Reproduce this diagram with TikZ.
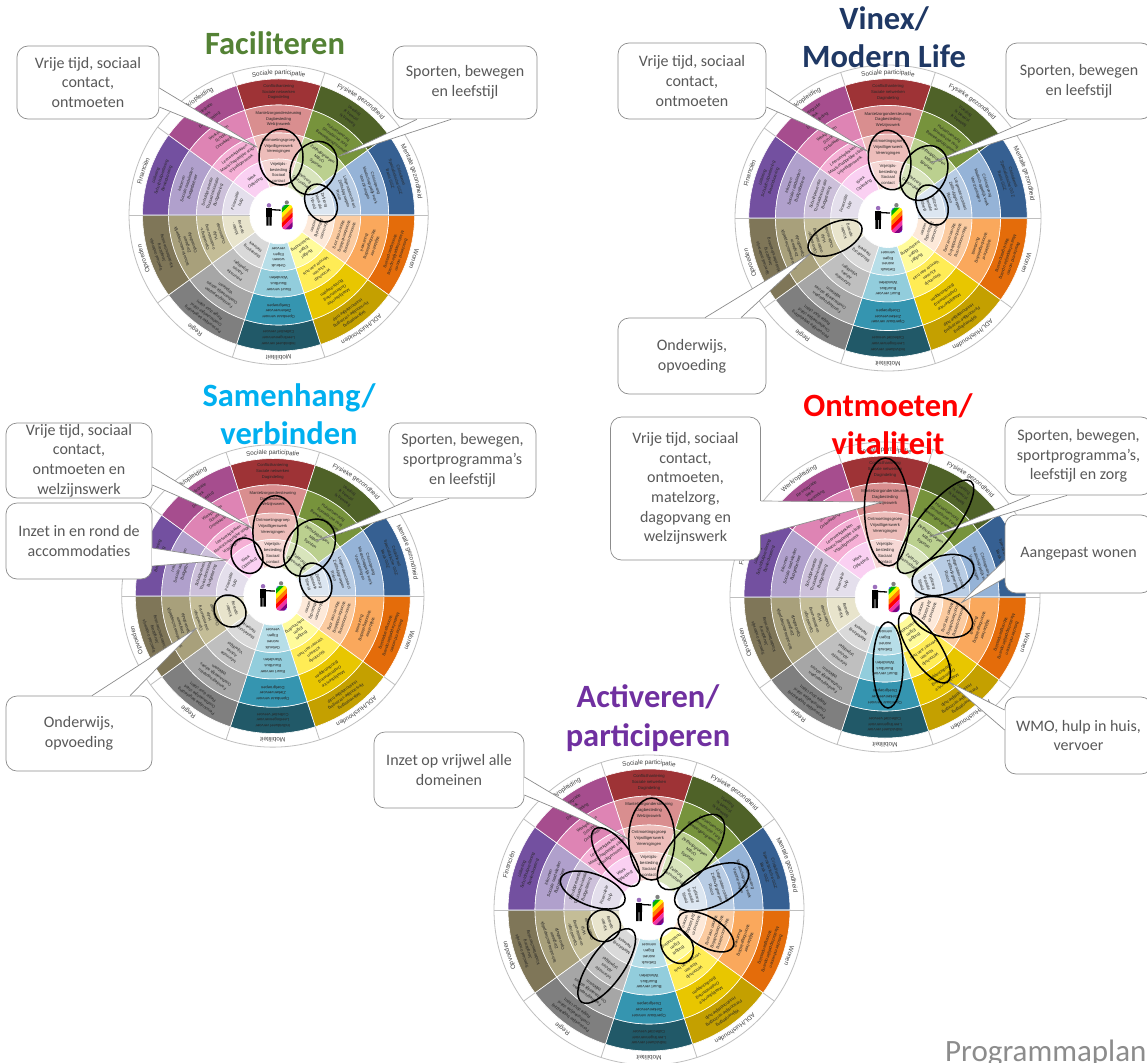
\documentclass[tikz,border=0pt]{standalone}
\usepackage{fontspec}
\setmainfont{Carlito}
\newfontfamily\wheelfont{Liberation Sans}
\usetikzlibrary{shapes.geometric,calc,decorations.text}

\definecolor{titlegreen}{HTML}{548235}
\definecolor{titlenavy}{HTML}{1F3864}
\definecolor{titlecyan}{HTML}{00B0F0}
\definecolor{titlepurple}{HTML}{7030A0}
\definecolor{bubbletext}{HTML}{595959}
\definecolor{wheelline}{HTML}{BFBFBF}

\tikzset{bubble/.style={draw=gray!90,fill=white,line width=0.7pt,rounded corners=11pt,align=center,text=bubbletext,inner sep=0pt,font=\fontsize{16}{19.7}\selectfont},
  oval/.style={ellipse,draw=black,line width=1.5pt,inner sep=0pt},
  headline/.style={align=center,inner sep=0pt,font=\fontsize{32.5}{38.5}\selectfont\bfseries},
  celltext/.style={align=center,inner sep=0pt,text=black!85,font=\wheelfont\fontsize{4.2}{5.9}\selectfont},
  tailline/.style={draw=gray!90,line width=0.7pt,line join=round}}

\newcommand{\bubbletail}[3]{
  \fill[white] #1 -- #2 -- #3 -- cycle;
  \draw[white,line width=1.2pt] #1 -- #3;
  \draw[tailline] #1 -- #2 -- #3;
}

\newcommand{\wheel}[3]{
\begin{scope}[shift={(#1,#2)},x=1pt,y=1pt,scale=#3,transform shape]
  \draw[wheelline,line width=0.8pt] (0,0) circle (155);
  % coloured rings, outside to inside
  \foreach \a/\ca/\cb/\cc/\cd/\lab in {
      90/9E3336/D98E8F/EDBDBA/F6D8D5/{Sociale participatie},
      54/4F6228/77933C/BBD08F/D8E4BC/{Fysieke gezondheid},
      18/366092/95B3D7/B8CCE4/DCE6F1/{Mentale gezondheid},
      -18/E46C0A/FAA85C/FBCBA0/FDE9D9/{Wonen},
      -54/C4A000/E8C600/FFEC55/FFFB9A/{ADL/Huishouden},
      -90/215968/3595B0/92CDDC/B7DEE8/{Mobiliteit},
      -126/7F7F7F/A6A6A6/BFBFBF/D9D9D9/{Regie},
      -162/7F7658/A8A07B/C4BD97/E8E4CC/{Opvoeden},
      162/7350A0/B0A0CC/CCC0DA/E4DFEC/{Financiën},
      126/A64D8E/DE84B4/F5AFD5/FAD0F2/{Werk/opleiding}}{
    \definecolor{ringa}{HTML}{\ca}
    \definecolor{ringb}{HTML}{\cb}
    \definecolor{ringc}{HTML}{\cc}
    \definecolor{ringd}{HTML}{\cd}
    \foreach \rout/\rin/\ring in {141/114/ringa,114/85/ringb,85/58/ringc,58/30/ringd}{
      \fill[\ring,draw=white,line width=0.6pt] ({\a+18}:\rout) arc ({\a+18}:{\a-18}:\rout) -- ({\a-18}:\rin) arc ({\a-18}:{\a+18}:\rin) -- cycle;
    }
    \draw[wheelline,line width=0.8pt] ({\a+18}:141) -- ({\a+18}:155);
    \edef\outerlabel{\noexpand\path[decorate,decoration={text along path,text align=center,text={|\noexpand\wheelfont\noexpand\fontsize{6.3}{7}\noexpand\selectfont\noexpand\color{black!75}|\lab}}] ({\a+18}:145.5) arc ({\a+18}:{\a-18}:145.5);}
    \outerlabel
  }
  \draw[wheelline,line width=0.8pt] (30,0) -- (155,0) (-30,0) -- (-155,0);
  \foreach \a/\r/\t in {
      90/127.5/{Conflicthantering\\Sociale netwerken\\Dagindeling},
      90/99.5/{Mantelzorgondersteuning\\Dagbesteding\\Welzijnswerk},
      90/71.5/{Ontmoetingsgroep\\Vrijwilligerswerk\\Verenigingen},
      90/44/{Vrijetijds-\\besteding\\Sociaal\\contact},
      54/127.5/{Voeding\\Ik bewust\\Ik beweeg},
      54/99.5/{Huisartsenzorg\\Somatische zorg\\Beweegprogramma's},
      54/71.5/{Zelfhulpgroepen\\MBvO\\Sporten},
      54/44/{Zelfzorg\\Gezondheid},
      18/127.5/{Crisisdienst\\Specialistische GGZ\\Basis GGZ},
      18/99.5/{Crisisopvang\\Maatschappelijk werk\\Voorzieningen},
      18/71.5/{Lotgenotencontact\\Zelfhulpgroepen\\Risico},
      18/44/{Zelfzorg\\Mentale\\fitheid},
      -18/127.5/{Beschermd wonen\\Maatschappelijke opvang\\Woningaanpassing},
      -18/99.5/{Wijkbeheer\\Woonbegeleiding\\Buurtwerk},
      -18/71.5/{Woonvoorziening\\Woonbemiddeling\\Wonen met zorg},
      -18/44/{Woonvorm\\Zelfstandig\\wonen},
      -54/127.5/{Wijkverpleging\\Persoonlijke verzorging\\Huishoudelijke hulp},
      -54/99.5/{Maaltijdservice\\Ondersteuning\\Boodschappen},
      -54/71.5/{Woonhulp\\Klussen\\Vervoer aan huis},
      -54/44/{Budget\\Eigen\\huishouding},
      -90/127.5/{Individueel vervoer\\Leerlingenvervoer\\Collectief vervoer},
      -90/99.5/{Openbaar vervoer\\Ziekenvervoer\\Doelgroepen},
      -90/71.5/{Buurt vervoer\\Buurtbus\\Wandelen},
      -90/44/{Gebruik\\wonen\\Eigen\\vervoer},
      -126/127.5/{Persoonlijke begeleiding\\Onafhankelijke cliënt\\Regie door cliënt},
      -126/99.5/{Familiegroepsplan\\Onafhankelijk advies\\Wijkteam},
      -126/71.5/{Informatie\\Advies\\Vrijwilliger},
      -126/44/{Mantelzorg\\Netwerk},
      -162/127.5/{Speciaal onderwijs\\Jeugdzorg\\Kinderbescherming},
      -162/99.5/{Schoolmaatschappelijk\\Zorgteam\\Opvoedhulp},
      -162/71.5/{Opvoedings-\\ondersteuning\\Hulp\\Ouderschap},
      -162/44/{Kinder-\\opvang},
      162/127.5/{Uitkering\\Schuldhulpverlening\\Bewindvoering},
      162/99.5/{Inkomen\\Sociale raadslieden\\Budgetbeheer},
      162/71.5/{Schuldpreventie\\Thuisadministratie\\Budgettering},
      162/44/{Financiële\\hulp},
      126/127.5/{Re-integratie\\Werk\\Dagbesteding},
      126/99.5/{Werkplekken\\Scholing\\Ontwikkeling},
      126/71.5/{Leerwerkplekken\\Maatschappelijke stage\\Vrijwilligerswerk},
      126/44/{Werk\\Opleiding}}{
    \node[celltext,rotate=\a-90] at (\a:\r) {\t};
  }
  % the two figures in the hub
  \fill[titlepurple!70] (-10,10) circle (2.3);
  \fill[black] (-13,7) rectangle (-7,-2) (-12.8,-2) rectangle (-10.4,-11) (-9.6,-2) rectangle (-7.2,-11);
  \draw[black,line width=1.3pt] (-7,5.5) -- (2,5);
  \fill[gray] (8.5,13) circle (2.2);
  \begin{scope}
    \clip[rounded corners=3pt] (3.5,-15) rectangle (14.5,10.5);
    \foreach \i/\bandc in {0/blue!70,1/green!70!black,2/yellow,3/orange,4/red,5/magenta!80,6/violet,7/blue!70,8/cyan}{
      \fill[\bandc,rotate around={45:(9,-2)}] (-15,{12-\i*3.6}) rectangle (33,{8.4-\i*3.6});
    }
  \end{scope}
\end{scope}
}

\begin{document}
\begin{tikzpicture}[x=1pt,y=-1pt]
    \fill[white] (0,0) rectangle (1147,1062);
    \useasboundingbox (0,0) rectangle (1147,1062);

    \wheel{278.6}{215}{0.965}
    \wheel{888}{218}{0.987}
    \wheel{272.8}{596}{0.975}
    \wheel{885}{597}{1}
    \wheel{649}{910}{1}

    % Faciliteren
    \node[bubble,minimum width=142pt,minimum height=73pt] (facvrij) at (88,82.5) {Vrije tijd, sociaal\\contact,\\ontmoeten};
    \node[bubble,minimum width=144pt,minimum height=73pt] (facsport) at (465,82.5) {Sporten, bewegen\\en leefstijl};
    \coordinate (facvrijtip) at (257,147);
    \coordinate (facsporttip) at (339,156);
    \bubbletail{($(facvrij.east)+(0,5.5)$)}{(facvrijtip)}{($(facvrij.east)+(0,24.5)$)}
    \bubbletail{($(facsport.south)+(-48,0)$)}{(facsporttip)}{($(facsport.south)+(-14,0)$)}

    % Vinex
    \node[bubble,minimum width=148pt,minimum height=76pt] (vinvrij) at (692,81) {Vrije tijd, sociaal\\contact,\\ontmoeten};
    \node[bubble,minimum width=146pt,minimum height=76pt] (vinsport) at (1079,81) {Sporten, bewegen\\en leefstijl};
    \node[bubble,minimum width=148pt,minimum height=76pt] (vinwijs) at (692,356) {Onderwijs,\\opvoeding};
    \coordinate (vinvrijtip) at (869,152);
    \coordinate (vinsporttip) at (931,163);
    \coordinate (vinwijstip) at (811,253);
    \bubbletail{($(vinvrij.east)+(0,7)$)}{(vinvrijtip)}{($(vinvrij.east)+(0,26)$)}
    \bubbletail{($(vinsport.south)+(-48,0)$)}{(vinsporttip)}{($(vinsport.south)+(-11.5,0)$)}
    \bubbletail{($(vinwijs.north)+(13,0)$)}{(vinwijstip)}{($(vinwijs.north)+(49,0)$)}

    % Samenhang
    \node[bubble,minimum width=146pt,minimum height=75pt] (samvrij) at (79,460.5) {Vrije tijd, sociaal\\contact,\\ontmoeten en\\welzijnswerk};
    \node[bubble,minimum width=146pt,minimum height=76pt] (saminzet) at (79,541) {Inzet in en rond de\\accommodaties};
    \node[bubble,minimum width=146pt,minimum height=75pt] (samwijs) at (79,733.5) {Onderwijs,\\opvoeding};
    \node[bubble,minimum width=147pt,minimum height=75pt] (samsport) at (462.5,460.5) {Sporten, bewegen,\\sportprogramma's\\en leefstijl};
    \coordinate (samvrijtip) at (254,529);
    \coordinate (saminzettip) at (228,560);
    \coordinate (samwijstip) at (196.5,628);
    \coordinate (samsporttip) at (316,541);
    \bubbletail{($(samvrij.east)+(0,6.5)$)}{(samvrijtip)}{($(samvrij.east)+(0,24.5)$)}
    \bubbletail{($(saminzet.east)+(0,7)$)}{(saminzettip)}{($(saminzet.east)+(0,25)$)}
    \bubbletail{($(samwijs.north)+(13,0)$)}{(samwijstip)}{($(samwijs.north)+(51,0)$)}
    \bubbletail{($(samsport.south)+(-49.5,0)$)}{(samsporttip)}{($(samsport.south)+(-13.5,0)$)}

    % Ontmoeten
    \node[bubble,minimum width=150pt,minimum height=143pt] (ontvrij) at (685.5,488.5) {Vrije tijd, sociaal\\contact,\\ontmoeten,\\matelzorg,\\dagopvang en\\welzijnswerk};
    \node[bubble,minimum width=147pt,minimum height=78pt] (ontsport) at (1078.5,456) {Sporten, bewegen,\\sportprogramma's,\\leefstijl en zorg};
    \node[bubble,minimum width=147pt,minimum height=78pt] (ontwonen) at (1078.5,554) {Aangepast wonen};
    \node[bubble,minimum width=147pt,minimum height=77pt] (ontwmo) at (1078.5,735.5) {WMO, hulp in huis,\\vervoer};
    \coordinate (ontvrijtip) at (882.6,502);
    \coordinate (ontsporttip) at (930,537);
    \coordinate (ontwonentip) at (961,603);
    \coordinate (ontwmotip) at (949,682);
    \bubbletail{($(ontvrij.east)+(0,12.5)$)}{(ontvrijtip)}{($(ontvrij.east)+(0,46.5)$)}
    \bubbletail{($(ontsport.south)+(-48.5,0)$)}{(ontsporttip)}{($(ontsport.south)+(-11.5,0)$)}
    \bubbletail{($(ontwonen.west)+(0,6)$)}{(ontwonentip)}{($(ontwonen.west)+(0,24)$)}
    \bubbletail{($(ontwmo.west)+(0,-25.5)$)}{(ontwmotip)}{($(ontwmo.west)+(0,-5.5)$)}

    % Activeren
    \node[bubble,minimum width=150pt,minimum height=76pt] (actinzet) at (449,770) {Inzet op vrijwel alle\\domeinen};
    \coordinate (actinzettip) at (630,840);
    \bubbletail{($(actinzet.east)+(0,7)$)}{(actinzettip)}{($(actinzet.east)+(0,25)$)}

    % the marked domains
    \node[oval,minimum width=56pt,minimum height=44pt,rotate=90] (facA) at (281,157) {};
    \node[oval,minimum width=56pt,minimum height=44pt,rotate=60] (facB) at (313.6,168) {};
    \node[oval,minimum width=40pt,minimum height=30pt,rotate=-60] (facC) at (321,203) {};

    \node[oval,minimum width=60pt,minimum height=42pt,rotate=100] (vinA) at (889.6,160) {};
    \node[oval,minimum width=58pt,minimum height=44pt,rotate=60] (vinB) at (924,173) {};
    \node[oval,minimum width=42pt,minimum height=30pt,rotate=-65] (vinC) at (932,205) {};
    \node[oval,minimum width=58pt,minimum height=30pt,rotate=25] (vinD) at (835,238) {};

    \node[oval,minimum width=72pt,minimum height=45pt,rotate=90] (samA) at (275.4,531.6) {};
    \node[oval,minimum width=62pt,minimum height=46pt,rotate=55] (samB) at (309.5,547.7) {};
    \node[oval,minimum width=41pt,minimum height=30pt,rotate=-65] (samC) at (315.8,582.7) {};
    \node[oval,minimum width=37pt,minimum height=30pt,rotate=-60] (samD) at (247,555.7) {};
    \node[oval,minimum width=34pt,minimum height=30pt,rotate=-45] (samE) at (230,611) {};

    \node[oval,minimum width=108pt,minimum height=45pt,rotate=92] (ontA) at (887,512) {};
    \node[oval,minimum width=115pt,minimum height=36pt,rotate=52] (ontB) at (935.6,526.7) {};
    \node[oval,minimum width=64pt,minimum height=38pt,rotate=18] (ontC) at (943,575) {};
    \node[oval,minimum width=64pt,minimum height=38pt,rotate=-18] (ontD) at (941.6,617) {};
    \node[oval,minimum width=82pt,minimum height=30pt,rotate=-56] (ontE) at (924.5,648) {};
    \node[oval,minimum width=86pt,minimum height=30pt,rotate=90] (ontF) at (888,665) {};

    \node[oval,minimum width=82pt,minimum height=46pt,rotate=90] (actA) at (651.7,839) {};
    \node[oval,minimum width=92pt,minimum height=42pt,rotate=50] (actB) at (691,852) {};
    \node[oval,minimum width=80pt,minimum height=38pt,rotate=25] (actC) at (711.7,887) {};
    \node[oval,minimum width=62pt,minimum height=30pt,rotate=-30] (actD) at (706,931.7) {};
    \node[oval,minimum width=38pt,minimum height=30pt,rotate=-55] (actE) at (677,945.7) {};
    \node[oval,minimum width=88pt,minimum height=34pt,rotate=55] (actF) at (606.7,966) {};
    \node[oval,minimum width=33pt,minimum height=32pt] (actG) at (604,925.7) {};
    \node[oval,minimum width=68pt,minimum height=32pt,rotate=-20] (actH) at (592.7,890) {};
    \node[oval,minimum width=70pt,minimum height=30pt,rotate=-53] (actI) at (615.7,857) {};

    % titles
    \node[headline,text=titlegreen] (factitle) at (275,43) {Faciliteren};
    \node[headline,text=titlenavy] (vintitle) at (884,37) {Vinex/\\Modern Life};
    \node[headline,text=titlecyan] (samtitle) at (289,414) {Samenhang/\\verbinden};
    \node[headline,text=red] (onttitle) at (888,424) {Ontmoeten/\\vitaliteit};
    \node[headline,text=titlepurple] (acttitle) at (648,718) {Activeren/\\participeren};
    \node[anchor=base west,inner sep=0pt,text=gray!90,font=\fontsize{31}{34}\selectfont] (plan) at (945,1061) {Programmaplan};
\end{tikzpicture}
\end{document}
